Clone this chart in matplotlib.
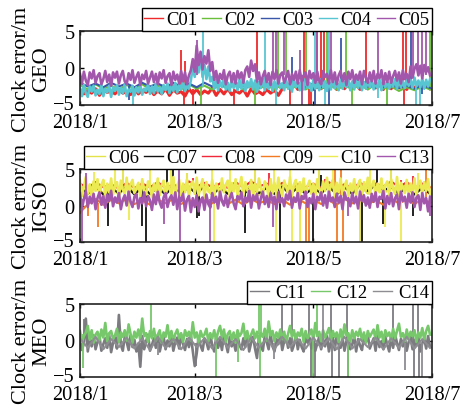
import numpy as np
import matplotlib
matplotlib.use("Agg")
import matplotlib.pyplot as plt
import matplotlib.transforms as mtransforms

plt.rcParams['font.family'] = ['Liberation Serif', 'DejaVu Serif']

# ---- time axis (days since 2018-01-01) ----
tick_dates = np.array(['2018-01-01', '2018-03-01', '2018-05-01', '2018-07-01'], dtype='datetime64[D]')
tick_labels = ['2018/1', '2018/3', '2018/5', '2018/7']
tick_days = (tick_dates - tick_dates[0]).astype(int)

days_1 = np.arange(0, 181)      # 181 samples
days_2 = np.arange(0, 181, 2)   # 91 samples
days_4 = np.arange(0, 181, 4)   # 46 samples

# ---- GEO ----
c01 = [-2.9,-3.5,-3.1,-3.4,-2.8,-3.7,-2.9,-3.3,-3.1,-3.5,
       -2.9,-3.4,-3.2,-3.6,-2.8,-3.5,-3.0,-3.3,-2.9,-3.6,
       -3.1,-3.5,-2.8,-3.7,-2.9,-3.4,-3.2,-3.8,-2.8,-3.5,
       -2.9,-3.6,-3.1,-3.4,-2.7,-3.7,-2.9,-3.5,-2.8,-3.6,
       -3.1,-3.4,-2.9,-3.8,-2.8,-3.5,-3.2,-3.6,-2.9,-3.4,
       -3.0,-3.7,-2.8,
       -2.2,-2.8,-2.0,-2.9,-2.1,-2.7,-2.2,-2.9,-2.0,-2.8,
       -2.1,-2.7,-2.2,-2.9,-2.0,-2.8,-2.1,-2.7,-2.2,-2.9,
       -2.0,-2.8,-2.1,-2.7,-2.2,-2.9,-2.0,-2.8,-2.1,-2.7,
       -2.2,-2.9,-2.0,-2.8,-2.1,-2.7,-2.2,-2.8]
c02 = [-2.3,-2.9,-2.2,-2.8,-2.4,-2.9,-2.3,-2.8,-2.2,-2.9,
       -2.4,-2.8,-2.3,-2.9,-2.2,-2.8,-2.4,-2.9,-2.3,-2.8,
       -2.2,-2.9,-2.4,-2.8,-2.3,-2.9,-2.2,-2.8,-2.4,-2.9,
       -2.3,-2.8,-2.2,-2.9,-2.4,-2.8,-2.3,-2.9,-2.2,-2.8,
       -2.5,-3.1,-2.6,-3.0,-2.5,-2.9]
c03 = [-2.0,-2.5,-2.1,-2.6,-2.0,-2.5,-2.1,-2.6,-2.0,-2.5,
       -2.1,-2.6,-2.0,-2.5,-2.1,-2.6,-2.0,-2.5,-2.1,-2.6,
       -2.0,-2.5,-2.1,-2.6,-2.0,-2.5,-2.1,-2.6,-2.0,-2.5,
       -2.1,-2.6,-2.0,-2.5,-2.1,-2.6,-2.0,-2.5,-2.1,-2.6,
       -2.3,-2.7,-2.4,-2.8,-2.3,-2.7]
c04 = [-2.7,-3.8,-2.3,-3.4,-3.9,-2.5,-3.2,-2.4,-3.7,-2.9,
       -3.5,-2.2,-3.8,-2.8,-3.3,-2.4,-3.9,-2.6,-3.1,-2.3,
       -3.6,-2.7,-3.4,-2.2,-3.8,-2.9,-3.2,-2.4,-3.7,-2.6,
       -3.3,-2.3,-3.6,-2.8,-3.1,-2.2,-3.5,-2.5,-3.4,-2.1,
       -3.2,-2.6,-3.5,-2.3,-3.0,-2.1,-3.4,-2.4,-3.1,-2.0,
       -3.3,-2.2,-2.9,-1.9,-3.1,-2.3,-2.8,-1.7,0.2,-1.2,
       1.0,-0.6,1.8,-1.2,0.4,-1.5,0.2,-1.8,-1.2,-2.8,
       -1.6,-3.0,-1.8,-2.6,-1.4,-2.9,-2.0,-3.1,-1.5,-2.7,
       -1.9,-3.0,-1.6,-2.8,-1.4,-3.1,-1.8,-2.6,-1.5,-2.9,
       -1.7,-3.2,-1.9,-2.7,-1.5,-3.0,-2.0,-2.8,-1.6,-3.1,
       -1.8,-2.9,-1.4,-2.7,-2.1,-3.0,-1.6,-2.8,-1.9,-3.2,
       -1.5,-2.6,-1.8,-3.0,-1.7,-2.9,-1.4,-2.7,-2.0,-3.1,
       -1.6,-2.8,-1.9,-3.0,-1.5,-2.6,-1.8,-3.1,-1.7,-2.9,
       -1.4,-2.7,-2.0,-3.0,-1.6,-2.8,-1.9,-2.6,-1.5,-3.0,
       -1.8,-2.9,-1.6,-2.7,-1.4,-3.0,-1.9,-2.8,-1.7,-2.6,
       -1.5,-2.9,-1.8,-2.7,-1.6,-3.0,-1.4,-2.6,-1.9,-2.8,
       -1.7,-2.5,-1.5,-2.8,-1.4,-2.6,-1.8,-2.7,-1.5,-2.4,
       -1.6,-2.7,-1.3,-2.5,-1.7,-2.6,-1.4,-2.8,-1.6,-2.5,
       -1.5]
c05 = [-0.8,-2.1,-0.5,-1.7,-2.3,-0.6,-1.4,-0.3,-2.0,-1.1,
       -0.7,-2.2,-1.5,-0.4,-1.9,-0.9,-2.4,-0.6,-1.3,-0.5,
       -2.1,-1.0,-0.4,-1.8,-2.2,-0.7,-1.6,-0.3,-2.0,-1.2,
       -0.6,-2.3,-0.9,-1.5,-0.4,-2.1,-1.3,-0.5,-1.9,-0.8,
       -2.2,-0.6,-1.4,-0.3,-2.0,-1.1,-0.7,-2.3,-0.5,-1.6,
       -0.9,-2.1,-0.4,-1.8,-0.6,-2.2,-1.0,-0.3,1.2,-0.5,
       3.0,0.4,2.2,-0.2,1.6,0.6,2.4,-0.4,0.8,-1.6,
       -0.4,-2.0,-0.8,-1.5,-0.3,-2.2,-1.0,-0.5,-1.9,-0.7,
       -2.1,-0.4,-1.4,-0.6,-2.0,-0.3,0.2,-1.2,1.0,-0.4,
       0.5,-1.8,-0.6,-2.2,-1.1,-0.4,-1.9,-0.7,-2.3,-0.5,
       -1.5,-0.3,-2.1,-0.9,-0.6,-2.0,-1.3,-0.4,-2.2,-0.8,
       -1.6,-0.5,-2.1,-0.3,-1.8,-1.0,-0.6,-2.3,-0.4,-1.4,
       -0.7,-2.0,-0.5,-1.7,-2.2,-0.4,-1.2,-0.8,-2.1,-0.3,
       -1.9,-0.6,-2.2,-1.0,-0.4,-1.8,-0.7,-2.3,-0.5,-1.5,
       -0.3,-2.0,-0.9,-1.6,-0.5,-2.2,-0.4,-1.3,-2.0,-0.6,
       -1.8,-0.4,-2.1,-0.8,-1.4,-0.3,-2.2,-0.7,-1.9,-0.5,
       -2.0,-1.1,-0.4,-1.7,-0.6,-2.1,-0.3,-1.5,-0.8,-1.9,
       0.2,-1.3,-0.1,0.5,-1.0,0.3,-1.4,0.4,-0.6,0.1,
       -1.0]

# spikes: (days, values)
s01 = ([52, 53.5, 54, 58, 79, 91, 108, 115, 118, 119, 122, 124, 125.5, 147, 166, 166.7, 167.5],
       [2.5, -5.5, 1.0, -5.5, -5.5, 6, -5.5, 6, -5.5, -5.5, 6, 6, 6, 6, 6, -5.5, 6])
s02 = ([62, 90, 102, 106, 114, 116, 127, 137, 140, 158, 180],
       [-5.5, -5.5, 6, 6, -5.5, 6, 6, 6, -5.5, -5.5, 6])
s03 = ([25, 109, 121, 128, 134, 170, 176],
       [-4.3, 1.5, -5.5, -5.5, 4.0, 6, -3.5])
s04 = ([27, 63, 95, 101, 121, 126, 128, 153, 173, 175],
       [-5.5, 6, 6, -5.5, 6, -5.5, 6, -4.0, -5.5, -5.5])
s05 = ([60, 99, 101, 105, 113, 114, 122, 129, 153, 171, 174, 176, 178],
       [3.8, 6, 6, 6, 2.5, -5.5, 6, 6, 6, 6, 6, 6, 6])

# ---- IGSO ----
c06 = [2.8,1.5,3.0,1.6,2.7,1.4,2.9,1.7,3.1,1.5,
       2.8,1.6,3.0,1.4,2.7,1.5,2.9,1.6,3.1,1.7,
       2.8,1.5,3.0,1.4,2.9,1.6,2.7,1.5,3.0,1.7,
       2.8,1.4,3.1,1.6,2.9,1.5,2.8,1.6,3.0,1.4,
       2.9,1.5,3.1,1.6,2.8,1.5]
c07 = [2.5,1.6,2.6,1.5,2.4,1.7,2.6,1.5,2.5,1.6,
       2.4,1.5,2.6,1.7,2.5,1.6,2.7,1.5,2.4,1.6,
       2.6,1.5,2.5,1.7,2.4,1.6,2.6,1.5,2.5,1.6,
       2.4,1.7,2.6,1.5,2.5,1.6,2.9,2.0,2.8,2.1,
       2.5,1.6,2.6,1.5,2.4,1.6]
c08 = [3.0,2.4,3.2,2.5,2.9,2.3,3.1,2.4,3.0,2.5,
       3.2,2.4,2.9,2.3,3.3,2.6,3.1,2.5,3.0,2.4,
       3.2,2.5,3.3,2.6,3.0,2.4,3.1,2.3,2.9,2.5,
       3.0,2.4,3.2,2.5,2.9,2.4,3.1,2.5,3.0,2.6,
       3.3,2.5,3.2,2.4,3.0,2.5]
c09 = [-1.0,0.2,0.9,0.1,0.8,0.3,0.9,0.2,0.7,0.1,
       0.8,0.3,0.9,0.2,0.8,0.1,0.7,0.3,0.9,0.2,
       0.8,0.1,0.9,0.3,0.7,0.2,0.8,0.1,0.9,0.3,
       0.8,0.2,0.7,0.1,0.9,0.3,0.8,0.2,0.7,0.1,
       0.9,0.3,0.8,0.2,0.9,0.4]
c10 = [3.4,1.3,2.6,3.9,1.6,2.9,1.1,3.3,2.0,3.6,
       1.4,2.8,3.5,1.2,3.0,1.8,3.7,1.5,2.7,3.2,
       1.1,3.4,2.2,1.6,3.8,1.3,2.9,3.5,1.7,2.4,
       3.1,1.2,3.6,2.0,1.5,3.3,2.6,1.1,3.0,1.9,
       3.7,1.4,2.8,3.4,1.2,3.1,2.3,1.6,3.9,1.3,
       2.7,3.5,1.5,3.0,1.8,3.6,1.2,2.9,3.3,1.6,
       3.8,1.4,2.5,3.6,1.1,3.2,2.0,1.7,3.5,1.3,
       3.0,2.4,1.5,3.7,1.8,2.9,3.4,1.2,3.1,1.9,
       3.6,1.4,2.7,3.9,1.3,3.2,2.1,1.6,3.5,1.2,
       3.0,1.8,3.7,2.3,1.4,3.3,2.8,1.1,3.6,1.7,
       3.1,1.5,3.8,2.2,1.3,3.4,2.6,1.6,3.9,1.2,
       2.9,3.5,1.4,3.2,1.9,3.7,1.3,2.7,3.4,1.6,
       3.0,1.2,3.6,2.4,1.5,3.3,2.0,3.8,1.4,2.8,
       3.5,1.1,3.1,1.8,3.7,1.5,2.6,3.4,1.3,3.0,
       1.9,3.6,1.4,2.9,3.5,1.2,3.2,2.1,3.8,1.6,
       2.7,3.4,1.3,3.0,1.8,3.7,1.5,2.8,3.3,1.4,
       3.6,2.2,1.6,3.9,1.3,3.1,2.5,1.7,3.5,1.2,
       3.0,1.8,3.7,1.4,2.9,3.4,1.5,3.2,2.0,3.6,
       1.6]
c13 = [1.7,-0.4,0.9,1.9,-0.2,1.2,0.3,1.6,-0.5,1.0,
       1.8,0.1,1.3,-0.3,1.5,0.6,2.0,-0.1,1.1,0.4,
       1.7,-0.5,0.8,1.4,0.0,1.9,0.5,-0.2,1.2,1.6,
       -0.4,1.0,0.3,1.8,-0.1,1.3,0.7,-0.6,1.5,0.2,
       1.9,0.4,-0.3,1.1,1.7,-0.2,0.9,1.4,0.1,1.8,
       -0.5,1.2,0.6,1.6,-0.7,0.8,1.3,-0.9,1.0,-0.2,
       1.4,-0.8,0.7,1.1,-0.6,1.5,0.2,-0.3,1.7,0.4,
       1.2,-0.4,1.9,0.6,0.0,1.4,-0.2,1.0,1.7,0.3,
       -0.5,1.3,0.8,1.8,-0.1,1.1,0.5,2.0,-0.3,1.4,
       0.7,1.6,-0.4,1.0,1.9,0.2,1.3,-0.2,1.7,0.6,
       1.2,-0.5,1.8,0.4,1.0,-0.1,1.5,0.8,2.0,-0.3,
       1.1,0.5,1.7,-0.4,1.3,0.9,1.9,-0.2,1.0,0.3,
       1.6,-0.5,1.2,0.7,1.8,0.0,1.4,-0.3,1.9,0.6,
       1.1,-0.2,1.6,0.4,1.3,-0.5,1.8,0.8,1.0,-0.1,
       1.7,0.3,1.2,-0.4,1.9,0.6,1.4,0.0,1.1,-0.3,
       1.6,0.5,1.8,-0.2,1.2,0.9,2.0,-0.4,1.3,0.2,
       1.7,-0.1,1.0,1.5,-0.5,1.9,0.6,1.2,-0.3,1.6,
       0.4,1.8,-0.2,1.1,1.4,-0.6,1.7,0.3,1.0,-0.8,
       1.2]

s06 = ([22, 55, 90, 113, 123, 144, 160],
       [5.5, 4.5, 5.5, -5.5, 5.5, -5.5, 5.5])
s07 = ([14.5, 32, 34, 44.5, 48, 60, 61, 85, 103, 120, 124, 145, 152.5, 156, 171],
       [-2.8, -2.8, -5.5, 5.5, 5.5, -1.7, -1.5, -3.7, -5.5, -5.5, 4.2, -5.5, 5.5, -2.5, -1.5])
s08 = ([58, 97, 126, 165, 171],
       [3.8, 4.5, 3.6, 3.5, 4.0])
s09 = ([4, 9, 116, 118, 131, 132, 134, 135, 178],
       [-1.5, -3.0, -5.5, -5.5, 5.5, -5.5, 5.5, -5.5, 5.5])
s10 = ([7, 18, 25, 36, 47, 68, 69, 77, 100, 101, 108, 109, 113, 130, 149, 157, 165, 174],
       [4.6, 5.5, -2.0, 5.5, 5.5, 5.5, -5.5, 5.5, 5.5, -5.5, 5.5, -5.5, -5.5, 5.5, 5.5, -3.0, -5.5, 4.5])
s13 = ([1, 3, 43, 51, 51.5, 67, 99, 138, 180],
       [-4.8, 4.5, -2.5, 5.5, -5.5, -5.5, -3.0, -1.5, -1.5])

# ---- MEO ----
c11 = [0.5,-1.3,-0.4,3.0,-1.5,0.2,-0.8,0.7,-1.2,-0.2,
       0.6,-1.4,-0.5,0.3,-1.0,0.8,-1.6,-0.3,0.4,-1.1,
       3.5,-0.6,-1.4,0.5,-0.2,-1.3,0.7,-0.9,0.1,-1.5,
       -0.4,-3.6,0.6,-1.2,-0.1,0.8,-1.4,-0.6,0.3,-1.0,
       0.7,-1.5,-0.3,0.5,-1.2,0.0,-0.8,0.6,-1.4,-0.2,
       0.4,-1.1,0.8,-0.5,-1.3,0.2,-0.9,0.6,-1.5,-3.5,
       -1.8,0.5,-0.7,-1.4,0.3,-0.2,-1.2,0.7,-0.6,-1.5,
       0.4,-1.0,0.1,-1.3,0.8,-0.4,-1.6,0.5,-0.8,-0.1,
       -1.4,0.6,-0.6,-1.2,0.3,-0.9,0.7,-1.5,-0.3,0.5,
       -1.1,-2.4,0.4,-0.7,-1.4,0.6,-0.2,-1.2,0.8,-0.8,
       -1.5,0.2,-0.5,0.7,-1.3,-0.1,0.5,-1.0,0.3,-1.4,
       -0.6,0.8,-1.2,0.1,-0.9,-1.5,0.6,-0.3,0.4,-1.1,
       0.7,-1.4,-0.4,0.5,-1.2,0.2,-0.8,0.6,-1.5,-0.2,
       0.4,-1.3,0.8,-0.6,-1.0,0.3,-1.4,-0.1,0.7,-1.2,
       -0.5,0.5,-1.5,0.2,-0.7,-1.3,0.6,-0.2,0.8,-1.1,
       -0.4,0.3,-1.4,0.7,-0.9,-0.1,-1.2,0.5,-0.6,-1.5,
       0.4,-1.0,0.8,-0.3,-1.3,0.2,-0.8,0.6,-1.4,-0.2,
       0.5,-1.2,0.1,-0.7,0.7,-1.5,-0.4,0.3,-1.1,0.6,
       -0.9]
c12 = [1.3,-0.2,0.6,1.1,2.0,0.1,1.4,-0.3,0.8,1.2,
       0.0,1.5,0.4,2.4,-0.1,1.0,1.3,0.2,0.7,1.6,
       -0.2,1.1,0.5,1.4,0.0,2.2,0.9,-0.3,1.2,0.4,
       1.5,0.1,3.0,0.6,1.0,-0.2,1.3,0.3,1.6,0.0,
       0.8,1.4,-0.3,1.1,0.5,2.1,0.2,1.3,-0.1,0.9,
       1.5,0.3,1.0,-0.2,1.4,0.6,1.2,0.0,2.5,0.4,
       1.1,-0.3,1.3,0.5,0.8,1.6,-0.1,1.0,0.3,1.4,
       0.0,1.2,2.0,0.4,1.5,-0.2,0.9,1.3,0.1,1.1,
       -0.3,1.4,0.6,1.0,2.3,0.2,1.3,-0.1,0.8,1.5,
       0.3,1.2,-0.2,1.0,0.5,1.6,0.0,2.6,0.7,1.3,
       -0.1,1.1,0.4,1.5,0.2,1.2,-0.3,0.9,2.0,0.5,
       1.4,0.0,1.1,0.6,1.6,-0.2,1.3,0.3,0.8,1.5,
       0.1,2.4,0.6,1.2,-0.1,1.4,0.4,1.0,1.7,0.0,
       1.3,0.5,1.1,-0.2,1.5,0.2,2.2,0.7,1.0,-0.1,
       1.4,0.3,1.2,0.6,1.6,0.0,1.1,-0.3,1.3,0.5,
       1.0,1.5,0.1,2.1,0.4,1.2,-0.2,1.4,0.6,1.1,
       0.0,1.6,0.3,1.3,2.3,0.5,1.0,-0.1,1.5,0.2,
       1.2,0.6,1.4,-0.2,1.1,0.4,1.7,0.1,1.3,2.0,
       0.8]
c14 = [0.3,-1.0,0.5,-1.2,0.2,-0.9,0.4,-1.1,0.3,-1.3,
       0.5,-1.0,0.2,-1.2,0.4,-0.9,0.3,-1.1,0.5,-1.0,
       0.2,-1.3,0.4,-1.0,0.3,-1.2,0.5,-0.9,0.2,-1.1,
       0.4,-1.0,0.3,-1.2,0.5,-1.1,0.2,-0.9,0.4,-1.2,
       0.3,-1.0,0.5,-1.1,0.2,-1.0]

s11 = ([2, 20, 31, 59.5, 103.7, 109, 118, 119, 121, 129, 129.5, 133, 137.5, 138, 161, 171, 171.5, 174, 174.5],
       [3.0, 3.5, -3.6, -3.5, 5.5, 5.5, 5.5, -5.5, -5.5, 5.5, -5.5, -5.5, 5.5, -5.5, 5.5, 5.5, -5.5, 5.5, -5.5])
s12 = ([1.4, 36.3, 70, 81, 92, 92.5, 93, 120, 122, 138],
       [-3.8, 5.5, -5.5, -3.0, 5.5, -5.5, 5.5, -5.5, 5.5, -5.5])
s14 = ([40, 100, 125, 167, 176],
       [-2.0, -2.5, 5.5, -4.0, -5.5])

panels = [
    ('GEO', [('C01', days_2, c01, s01, '#ee2a2a'),
             ('C02', days_4, c02, s02, '#6abf3a'),
             ('C03', days_4, c03, s03, '#3a56a8'),
             ('C04', days_1, c04, s04, '#58c6d2'),
             ('C05', days_1, c05, s05, '#a257ac')], 0.15),
    ('IGSO', [('C06', days_4, c06, s06, '#e4e24a'),
              ('C07', days_4, c07, s07, '#111111'),
              ('C08', days_4, c08, s08, '#f0283c'),
              ('C09', days_4, c09, s09, '#f27a22'),
              ('C10', days_1, c10, s10, '#ecea52'),
              ('C13', days_1, c13, s13, '#a257ac')], 0.15),
    ('MEO', [('C11', days_1, c11, s11, '#7c7c80'),
             ('C12', days_1, c12, s12, '#76c86a'),
             ('C14', days_4, c14, s14, '#8e8e92')], 0.35),
]
trace_lw = {181: 1.9, 91: 2.2, 46: 1.5}

fig = plt.figure(figsize=(4.63, 4.06), dpi=100)
W, H = 463.0, 406.0
boxes = [(80, 32, 352, 74), (80, 170, 352, 73), (80, 305, 352, 73)]
nudge_up = mtransforms.ScaledTranslation(0, 3 / 100.0, fig.dpi_scale_trans)

for (name, series, tpad), (x0, y0, w, h) in zip(panels, boxes):
    ax = fig.add_axes([x0 / W, 1 - (y0 + h) / H, w / W, h / H])
    for label, d, vals, spikes, col in series:
        vals = np.array(vals)
        ax.plot(d, vals, color=col, lw=trace_lw[len(vals)], label=label)
        ax.vlines(spikes[0], np.median(vals), spikes[1], color=col, lw=1.3)
    ax.set_xlim(0, tick_days[-1])
    ax.set_ylim(-5, 5)
    ax.set_yticks([-5, 0, 5])
    ax.set_xticks(tick_days)
    ax.set_xticklabels(tick_labels)
    ax.tick_params(direction='in', top=True, right=True, length=3, width=1,
                   labelsize=14.7, pad=4)
    ax.tick_params(axis='x', pad=6)
    lab = ax.get_yticklabels()[0]
    lab.set_transform(lab.get_transform() + nudge_up)
    for sp in ax.spines.values():
        sp.set_linewidth(1.2)
        sp.set_color('#222222')
    ax.set_ylabel('Clock error/m\n' + name, fontsize=16, labelpad=1, linespacing=1.1)
    leg = ax.legend(loc='lower right', bbox_to_anchor=(1.0, 1.0), ncol=len(series),
                    frameon=True, fancybox=False, edgecolor='black', framealpha=1,
                    borderpad=0.15, handlelength=1.0, handletextpad=tpad,
                    columnspacing=0.3, borderaxespad=0, fontsize=13.4)
    leg.get_frame().set_linewidth(1.0)
    for ln in leg.get_lines():
        ln.set_linewidth(1.0)

fig.savefig('out.png', dpi=100)
